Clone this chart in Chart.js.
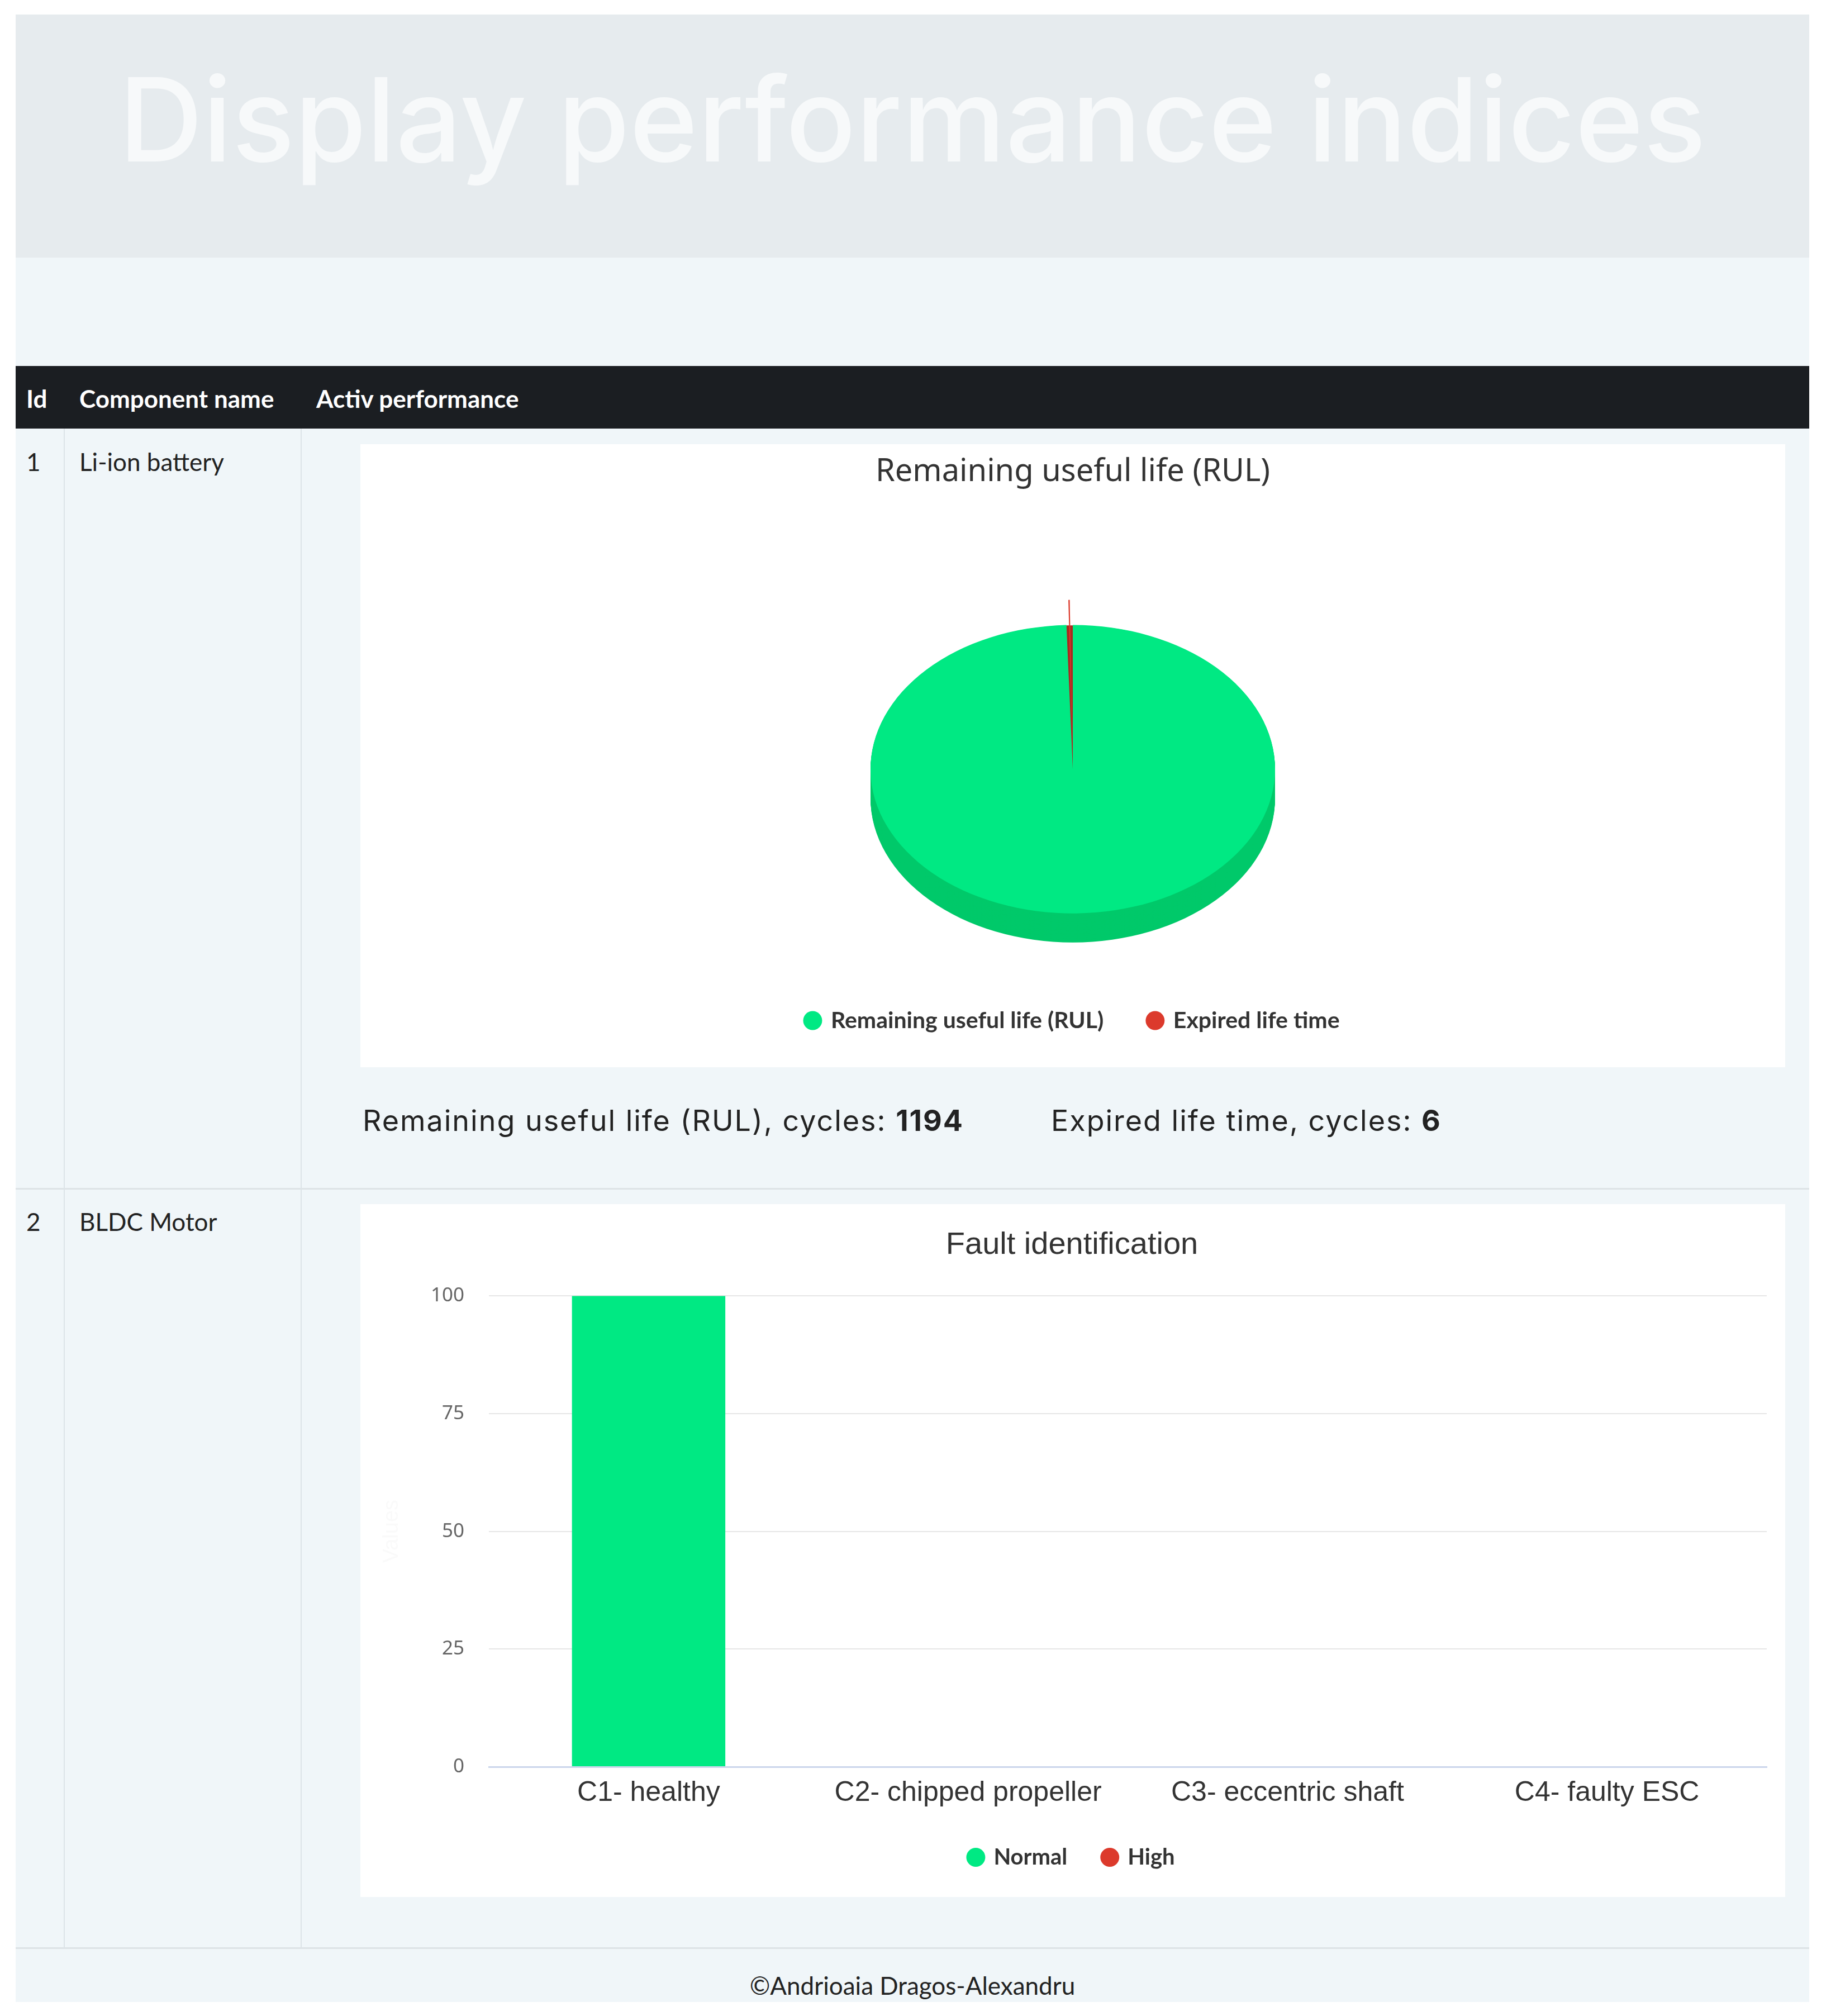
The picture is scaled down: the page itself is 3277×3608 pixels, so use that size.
<!DOCTYPE html>
<html>
<head>
<meta charset="utf-8">
<script src="https://cdn.jsdelivr.net/npm/chart.js@4.4.0/dist/chart.umd.min.js"></script>
<style>
  body { margin: 0; background: #fff; width: 3277px; height: 3608px; position: relative; overflow: hidden; }
  .abs { position: absolute; }
  .banner { left: 28px; top: 26px; width: 3210px; height: 435px; background: #e6ebee; }
  .banner h1 { margin: 0; position: absolute; left: 0; right: 0; top: 62px; height: 250px; line-height: 250px;
    text-align: center; font-family: Inter, sans-serif; font-weight: 500; font-size: 208px; color: #f7f9fa; letter-spacing: 0; }
  .light { left: 28px; top: 461px; width: 3210px; height: 194px; background: #f0f6f9; }
  .thead { left: 28px; top: 655px; width: 3210px; height: 112px; background: #1b1e22; }
  .th { color: #fff; font-family: Lato, sans-serif; font-weight: bold; font-size: 44px; height: 52px; line-height: 52px; top: 687px; }
  .row { left: 28px; width: 3210px; background: #f0f6f9; }
  .vline { width: 2px; background: #dde4e8; }
  .hline { left: 28px; width: 3210px; background: #dde3e6; }
  .td { color: #222; font-family: Lato, sans-serif; font-size: 44px; height: 52px; line-height: 52px; }
  .card { background: #fff; }
  .cyc { font-family: Inter, sans-serif; font-size: 52px; letter-spacing: 2px; color: #222; height: 62px; line-height: 62px; top: 1975px; }
  .cyc b { font-weight: 700; }
  .foot { left: 28px; top: 3488px; width: 3210px; height: 95px; background: #f0f6f9; }
  .foot div { position: absolute; left: 0; right: 0; top: 38px; height: 54px; line-height: 54px; text-align: center;
    font-family: Lato, sans-serif; font-size: 44px; color: #222; }
</style>
</head>
<body>
<div class="abs banner"><h1>Display performance indices</h1></div>
<div class="abs light"></div>
<div class="abs thead"></div>
<div class="abs th" style="left:47px">Id</div>
<div class="abs th" style="left:142px">Component name</div>
<div class="abs th" style="left:566px">Activ performance</div>

<div class="abs row" style="top:767px;height:1360px"></div>
<div class="abs row" style="top:2128px;height:1360px"></div>
<div class="abs hline" style="top:2126px;height:3px"></div>
<div class="abs hline" style="top:3485px;height:4px"></div>
<div class="abs vline" style="left:114px;top:767px;height:2720px"></div>
<div class="abs vline" style="left:538px;top:767px;height:2720px"></div>

<div class="abs td" style="left:47px;top:800px">1</div>
<div class="abs td" style="left:142px;top:800px">Li-ion battery</div>
<div class="abs td" style="left:47px;top:2160px">2</div>
<div class="abs td" style="left:142px;top:2160px">BLDC Motor</div>

<div class="abs card" style="left:645px;top:795px;width:2550px;height:1115px">
  <canvas id="pieChart"></canvas>
</div>
<div class="abs cyc" style="left:649px">Remaining useful life (RUL), cycles: <b>1194</b></div>
<div class="abs cyc" style="left:1881px">Expired life time, cycles: <b>6</b></div>

<div class="abs card" style="left:645px;top:2155px;width:2550px;height:1240px">
  <canvas id="barChart"></canvas>
</div>

<div class="abs foot"><div>©Andrioaia Dragos-Alexandru</div></div>

<script>
// pie data
let pieLabels = ['Remaining useful life (RUL)', 'Expired life time'];
let pieValues = [1194, 6];
let pieColors = ['#00e983', '#dc3a2c'];
let pieSideColors = ['#00c96a', '#a82a20'];

// bar data
let faultLabels = ['C1- healthy', 'C2- chipped propeller', 'C3- eccentric shaft', 'C4- faulty ESC'];
let normalValues = [100, 0, 0, 0];
let highValues = [0, 0, 0, 0];
let yTicks = [0, 25, 50, 75, 100];

// squashes the pie into an ellipse and adds a darker side under it
const pie3d = {
  id: 'pie3d',
  beforeDatasetsDraw(chart, args, opts) {
    const ctx = chart.ctx;
    const arcs = chart.getDatasetMeta(0).data;
    const cx = arcs[0].x, cy = arcs[0].y;
    ctx.save();
    ctx.translate(cx, cy);
    ctx.scale(1, opts.tilt);
    ctx.translate(-cx, -cy);
    const depth = opts.depth / opts.tilt;
    arcs.forEach((arc, i) => {
      const p = arc.getProps(['x', 'y', 'startAngle', 'endAngle', 'outerRadius']);
      ctx.fillStyle = opts.sideColors[i];
      for (let d = depth; d > 0; d -= 2) {
        ctx.beginPath();
        ctx.moveTo(p.x, p.y + d);
        ctx.arc(p.x, p.y + d, p.outerRadius, p.startAngle, p.endAngle);
        ctx.closePath();
        ctx.fill();
      }
    });
  },
  afterDatasetsDraw(chart) {
    chart.ctx.restore();
  }
};

let pieChart = new Chart(document.getElementById('pieChart'), {
  type: 'pie',
  data: {
    labels: pieLabels,
    datasets: [{
      data: pieValues,
      backgroundColor: pieColors,
      borderWidth: 0,
      radius: 362,
      offset: [0, 128],
      clip: false
    }]
  },
  options: {
    animation: false,
    responsive: true,
    maintainAspectRatio: false,
    layout: { padding: { bottom: 53 } },
    plugins: {
      title: {
        display: true,
        text: 'Remaining useful life (RUL)',
        color: '#333',
        font: { family: 'Noto Sans', size: 56, weight: 'normal' },
        padding: { top: 16, bottom: 149 }
      },
      legend: {
        position: 'bottom',
        labels: {
          usePointStyle: true,
          pointStyle: 'circle',
          boxWidth: 24,
          boxHeight: 24,
          padding: 80,
          color: '#333',
          font: { family: 'Lato', size: 41, weight: 'bold' }
        }
      },
      tooltip: { enabled: false },
      pie3d: { tilt: 0.713, depth: 52, sideColors: pieSideColors }
    }
  },
  plugins: [pie3d]
});

let barChart = new Chart(document.getElementById('barChart'), {
  type: 'bar',
  data: {
    labels: faultLabels,
    datasets: [
      { label: 'Normal', data: normalValues, backgroundColor: pieColors[0], borderWidth: 0 },
      { label: 'High', data: highValues, backgroundColor: pieColors[1], borderWidth: 0 }
    ]
  },
  options: {
    animation: false,
    responsive: true,
    maintainAspectRatio: false,
    barPercentage: 0.6,
    categoryPercentage: 0.8,
    layout: { padding: { left: 30, right: 33, bottom: 41 } },
    scales: {
      x: {
        stacked: true,
        afterFit: (scale) => { scale.height = 78; },
        grid: { display: false, drawTicks: false },
        border: { color: '#ccd6eb', width: 3 },
        ticks: { color: '#333', font: { family: 'Liberation Sans', size: 50 }, padding: 17 }
      },
      y: {
        stacked: true,
        min: 0,
        max: 100,
        afterBuildTicks: (scale) => { scale.ticks = yTicks.map(v => ({ value: v })); },
        afterFit: (scale) => { scale.width = 200; },
        grid: { color: '#e6e6e6', lineWidth: 2, drawTicks: false },
        border: { display: false },
        ticks: { color: '#666', font: { family: 'Noto Sans', size: 35 }, padding: 44 },
        title: { display: true, text: 'Values', color: '#fafafa', font: { family: 'Liberation Sans', size: 38 } }
      }
    },
    plugins: {
      title: {
        display: true,
        text: 'Fault identification',
        color: '#333',
        font: { family: 'Liberation Sans', size: 56, weight: 'normal' },
        padding: { top: 40, bottom: 57 }
      },
      legend: {
        position: 'bottom',
        labels: {
          usePointStyle: true,
          pointStyle: 'circle',
          boxWidth: 24,
          boxHeight: 24,
          padding: 64,
          color: '#333',
          font: { family: 'Lato', size: 40, weight: 'bold' }
        }
      },
      tooltip: { enabled: false }
    }
  }
});
</script>
</body>
</html>
